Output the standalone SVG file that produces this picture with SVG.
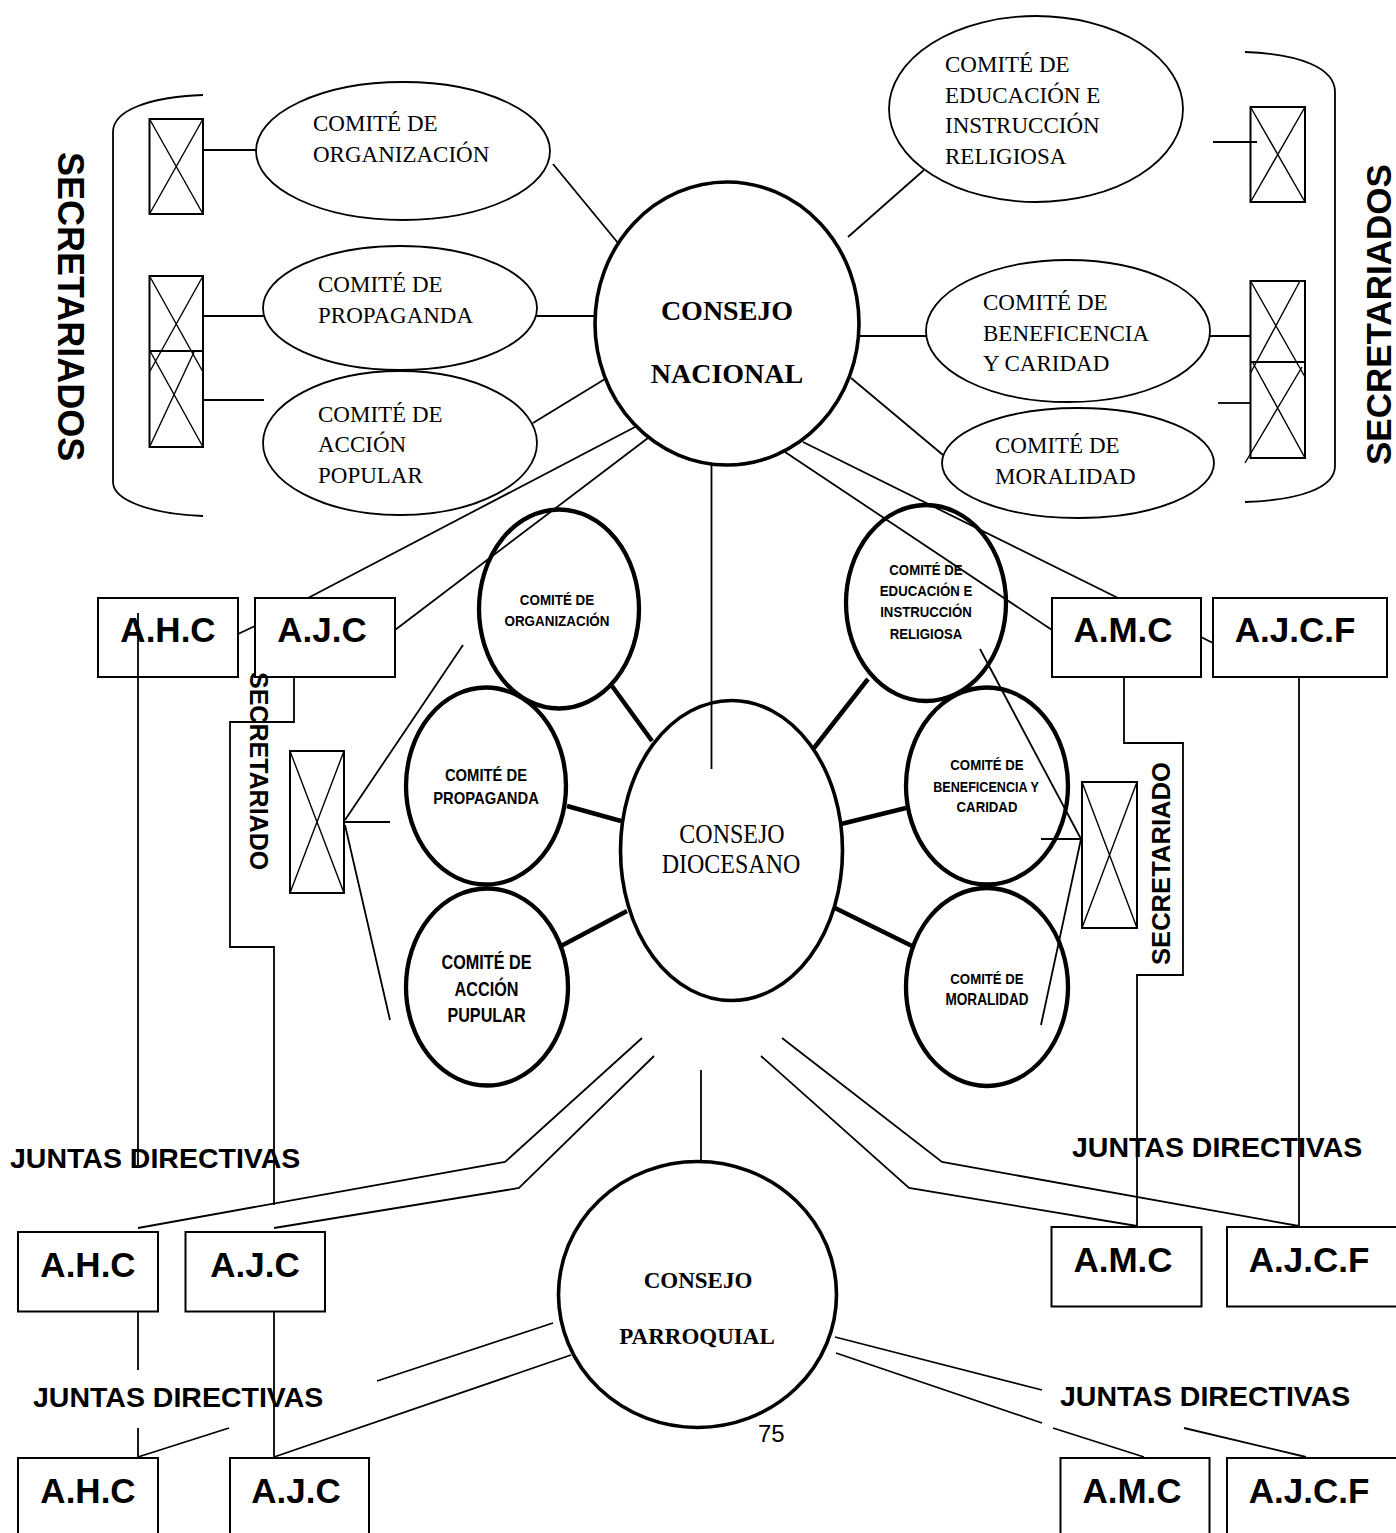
<svg xmlns="http://www.w3.org/2000/svg" width="1396" height="1533" viewBox="0 0 1396 1533">
<style>
.ln{fill:none;stroke:#000;stroke-width:1.8}
.lnb{fill:none;stroke:#000;stroke-width:4.5}
.el{fill:none;stroke:#000;stroke-width:1.8}
.elb{fill:none;stroke:#000;stroke-width:3.6}
.elc{fill:none;stroke:#000;stroke-width:4.3}
.bx{fill:none;stroke:#000;stroke-width:2}
.sb{fill:none;stroke:#000;stroke-width:2}
.sx{fill:none;stroke:#000;stroke-width:1.4}
.tr{font-family:"Liberation Serif","Times New Roman",serif;font-size:23px}
.trb{font-family:"Liberation Serif","Times New Roman",serif;font-weight:bold;text-anchor:middle}
.sa{font-family:"Liberation Sans",Arial,sans-serif;font-weight:bold}
.box{font-family:"Liberation Sans",Arial,sans-serif;font-weight:bold;font-size:35px;text-anchor:middle}
.jd{font-family:"Liberation Sans",Arial,sans-serif;font-weight:bold;font-size:28.5px}
.cm{font-family:"Liberation Sans",Arial,sans-serif;font-weight:bold;text-anchor:middle}
</style>

<g id="labels">
<text class="sa" font-size="36" transform="translate(58,152) rotate(90)">SECRETARIADOS</text>
<text class="sa" font-size="35" transform="translate(1391,465) rotate(-90)">SECRETARIADOS</text>
<text class="sa" font-size="25" transform="translate(249.5,672) rotate(90)">SECRETARIADO</text>
<text class="sa" font-size="25.6" transform="translate(1170,965) rotate(-90)">SECRETARIADO</text>
<text class="jd" x="10" y="1168">JUNTAS DIRECTIVAS</text>
<text class="jd" x="1072" y="1157">JUNTAS DIRECTIVAS</text>
<text class="jd" x="33" y="1407">JUNTAS DIRECTIVAS</text>
<text class="jd" x="1060" y="1406">JUNTAS DIRECTIVAS</text>
<text x="758" y="1442" font-family="Liberation Sans,Arial,sans-serif" font-size="24">75</text>
<path class="ln" d="M203,95 C150,97 113,110 113,132 L113,482 C113,500 150,514 203,516"/>
<path class="ln" d="M1245,52 C1300,54 1335,68 1335,92 L1335,466 C1335,488 1300,500 1245,502"/>
</g>

<g id="sec-left-1">
<rect class="sb" x="149.5" y="119" width="53.5" height="95"/>
<path class="sx" d="M149.5,119 L203,214 M203,119 L149.5,214"/>
</g>
<g id="sec-left-2">
<rect class="sb" x="149.5" y="276" width="53.5" height="171"/>
<line class="sb" x1="149.5" y1="351" x2="203" y2="351"/>
<path class="sx" d="M149.5,276 L203,372 M203,276 L149.5,372 M150,351 L203,447 M194,352 L149.5,447"/>
</g>
<g id="sec-right-1">
<rect class="sb" x="1250.5" y="107" width="54.5" height="95"/>
<path class="sx" d="M1250.5,107 L1305,202 M1305,107 L1250.5,202"/>
</g>
<g id="sec-right-2">
<rect class="sb" x="1250.5" y="281" width="54.5" height="177"/>
<line class="sb" x1="1250.5" y1="362" x2="1305" y2="362"/>
<path class="sx" d="M1250.5,281 L1305,377 M1300,281 L1250.5,373 M1253,363 L1305,458 M1302,367 L1245,463"/>
</g>
<g id="sec-mid-left">
<rect class="sb" x="290" y="751" width="54" height="142"/>
<path class="sx" d="M290,751 L344,893 M344,751 L290,893"/>
</g>
<g id="sec-mid-right">
<rect class="sb" x="1082" y="782" width="55" height="146"/>
<path class="sx" d="M1082,782 L1137,928 M1137,782 L1082,928"/>
</g>

<g id="n-org">
<ellipse class="el" cx="403" cy="151" rx="147" ry="69"/>
<text class="tr" x="313" y="131">COMITÉ DE</text>
<text class="tr" x="313" y="162">ORGANIZACIÓN</text>
</g>
<g id="n-prop">
<ellipse class="el" cx="400" cy="308" rx="137" ry="62"/>
<text class="tr" x="318" y="292">COMITÉ DE</text>
<text class="tr" x="318" y="323">PROPAGANDA</text>
</g>
<g id="n-acc">
<ellipse class="el" cx="400" cy="443" rx="137" ry="72"/>
<text class="tr" x="318" y="422">COMITÉ DE</text>
<text class="tr" x="318" y="452">ACCIÓN</text>
<text class="tr" x="318" y="483">POPULAR</text>
</g>
<g id="n-edu">
<ellipse class="el" cx="1036" cy="109" rx="147" ry="93"/>
<text class="tr" x="945" y="72">COMITÉ DE</text>
<text class="tr" x="945" y="103">EDUCACIÓN E</text>
<text class="tr" x="945" y="133">INSTRUCCIÓN</text>
<text class="tr" x="945" y="164">RELIGIOSA</text>
</g>
<g id="n-ben">
<ellipse class="el" cx="1068" cy="331" rx="142" ry="71"/>
<text class="tr" x="983" y="310">COMITÉ DE</text>
<text class="tr" x="983" y="341">BENEFICENCIA</text>
<text class="tr" x="983" y="371">Y CARIDAD</text>
</g>
<g id="n-mor">
<ellipse class="el" cx="1078" cy="463" rx="136" ry="55"/>
<text class="tr" x="995" y="453">COMITÉ DE</text>
<text class="tr" x="995" y="484">MORALIDAD</text>
</g>

<g id="consejo-nacional">
<ellipse class="elb" cx="727" cy="323.5" rx="132" ry="141.5"/>
<text class="trb" font-size="28" x="727" y="320">CONSEJO</text>
<text class="trb" font-size="28" x="727" y="383">NACIONAL</text>
</g>

<g id="consejo-diocesano">
<ellipse class="elb" cx="731.5" cy="850.5" rx="111" ry="150"/>
<text font-family="Liberation Serif,Times New Roman,serif" font-size="24" text-anchor="middle" transform="translate(732,843) scale(1,1.15)">CONSEJO</text>
<text font-family="Liberation Serif,Times New Roman,serif" font-size="24" text-anchor="middle" transform="translate(731,873) scale(1,1.15)">DIOCESANO</text>
</g>

<g id="d-org">
<ellipse class="elc" cx="559" cy="609" rx="80" ry="99.5"/>
<text class="cm" font-size="13.4" transform="translate(557,605) scale(1,1.15)">COMITÉ DE</text>
<text class="cm" font-size="13.4" transform="translate(557,625.5) scale(1,1.15)">ORGANIZACIÓN</text>
</g>
<g id="d-prop">
<ellipse class="elc" cx="486" cy="786" rx="80" ry="98.5"/>
<text class="cm" font-size="14.8" transform="translate(486,781) scale(1,1.15)">COMITÉ DE</text>
<text class="cm" font-size="14.8" transform="translate(486,804) scale(1,1.15)">PROPAGANDA</text>
</g>
<g id="d-acc">
<ellipse class="elc" cx="487" cy="987" rx="81" ry="98.5"/>
<text class="cm" font-size="16.2" transform="translate(486.5,969) scale(1,1.2)">COMITÉ DE</text>
<text class="cm" font-size="16.2" transform="translate(486.5,995.5) scale(1,1.2)">ACCIÓN</text>
<text class="cm" font-size="16.2" transform="translate(486.5,1022) scale(1,1.2)">PUPULAR</text>
</g>
<g id="d-edu">
<ellipse class="elc" cx="926" cy="603" rx="80" ry="98"/>
<text class="cm" font-size="13.2" transform="translate(926,575) scale(1,1.15)">COMITÉ DE</text>
<text class="cm" font-size="13.2" transform="translate(926,596) scale(1,1.15)">EDUCACIÓN E</text>
<text class="cm" font-size="13.2" transform="translate(926,617) scale(1,1.15)">INSTRUCCIÓN</text>
<text class="cm" font-size="13.2" transform="translate(926,639) scale(1,1.15)">RELIGIOSA</text>
</g>
<g id="d-ben">
<ellipse class="elc" cx="987" cy="786" rx="81" ry="98.5"/>
<text class="cm" font-size="13.2" transform="translate(987,770) scale(1,1.15)">COMITÉ DE</text>
<text class="cm" font-size="12.6" transform="translate(986,791.5) scale(1,1.15)">BENEFICENCIA Y</text>
<text class="cm" font-size="13.2" transform="translate(987,812) scale(1,1.15)">CARIDAD</text>
</g>
<g id="d-mor">
<ellipse class="elc" cx="987" cy="987" rx="81" ry="99"/>
<text class="cm" font-size="13.2" transform="translate(987,984) scale(1,1.15)">COMITÉ DE</text>
<text class="cm" font-size="13.6" transform="translate(987,1004.5) scale(1,1.15)">MORALIDAD</text>
</g>

<g id="consejo-parroquial">
<ellipse class="elb" cx="697.5" cy="1294.5" rx="139" ry="133"/>
<text class="trb" font-size="23" x="698" y="1288">CONSEJO</text>
<text class="trb" font-size="23" x="697" y="1344">PARROQUIAL</text>
</g>

<g id="ahc-1"><rect class="bx" x="98" y="598" width="140" height="79"/><text class="box" x="168" y="642">A.H.C</text></g>
<g id="ajc-1"><rect class="bx" x="255" y="598" width="140" height="79"/><text class="box" x="322" y="642">A.J.C</text></g>
<g id="amc-1"><rect class="bx" x="1052" y="598" width="149" height="79"/><text class="box" x="1123" y="642">A.M.C</text></g>
<g id="ajcf-1"><rect class="bx" x="1213" y="598" width="174" height="79"/><text class="box" x="1295" y="642">A.J.C.F</text></g>

<g id="ahc-2"><rect class="bx" x="18" y="1232" width="140" height="79.5"/><text class="box" x="88" y="1277">A.H.C</text></g>
<g id="ajc-2"><rect class="bx" x="185.5" y="1232" width="139.5" height="79.5"/><text class="box" x="255" y="1277">A.J.C</text></g>
<g id="amc-2"><rect class="bx" x="1051.5" y="1227" width="150" height="79.5"/><text class="box" x="1123" y="1272">A.M.C</text></g>
<g id="ajcf-2"><rect class="bx" x="1227" y="1227" width="172" height="79.5"/><text class="box" x="1309" y="1272">A.J.C.F</text></g>

<g id="ahc-3"><rect class="bx" x="18" y="1458" width="140" height="85"/><text class="box" x="88" y="1503">A.H.C</text></g>
<g id="ajc-3"><rect class="bx" x="230" y="1458" width="139" height="85"/><text class="box" x="296" y="1503">A.J.C</text></g>
<g id="amc-3"><rect class="bx" x="1060.5" y="1458" width="149" height="85"/><text class="box" x="1132" y="1503">A.M.C</text></g>
<g id="ajcf-3"><rect class="bx" x="1227" y="1458" width="172" height="85"/><text class="box" x="1309" y="1503">A.J.C.F</text></g>

<g id="connectors">
<line class="ln" x1="203" y1="150" x2="256" y2="150"/>
<line class="ln" x1="203" y1="316" x2="264" y2="316"/>
<line class="ln" x1="203" y1="400" x2="264" y2="400"/>
<line class="ln" x1="536" y1="316" x2="596" y2="316"/>
<line class="ln" x1="553" y1="164" x2="618" y2="243"/>
<line class="ln" x1="533" y1="423" x2="605" y2="379"/>
<line class="ln" x1="848" y1="237" x2="924" y2="170"/>
<line class="ln" x1="859" y1="336" x2="926" y2="336"/>
<line class="ln" x1="851" y1="378" x2="943" y2="455"/>
<line class="ln" x1="1210" y1="336" x2="1250" y2="336"/>
<line class="ln" x1="1218" y1="403" x2="1250" y2="403"/>
<line class="ln" x1="1213" y1="142" x2="1257" y2="142"/>
<line class="ln" x1="635" y1="427" x2="308" y2="598"/>
<line class="ln" x1="648" y1="438" x2="395" y2="630"/>
<line class="ln" x1="238" y1="634" x2="255" y2="626"/>
<line class="ln" x1="785" y1="452" x2="1052" y2="630"/>
<line class="ln" x1="803" y1="442" x2="1118" y2="598"/>
<line class="ln" x1="1201" y1="637" x2="1213" y2="643"/>
<line class="ln" x1="711.5" y1="465" x2="711.5" y2="769"/>
<line class="ln" x1="138" y1="613" x2="138" y2="1168"/>
<polyline class="ln" points="294,677 294,722 230,722 230,947 274,947 274,1205"/>
<polyline class="ln" points="1124,677 1124,743 1183,743 1183,975 1137,975 1137,1227"/>
<line class="ln" x1="1299" y1="677" x2="1299" y2="1227"/>
<line class="ln" x1="345" y1="820" x2="463" y2="645"/>
<line class="ln" x1="345" y1="822" x2="390" y2="822"/>
<line class="ln" x1="345" y1="825" x2="390" y2="1020"/>
<line class="ln" x1="980" y1="649" x2="1081" y2="839"/>
<line class="ln" x1="1041" y1="839" x2="1081" y2="839"/>
<line class="ln" x1="1081" y1="839" x2="1041" y2="1025"/>
<line class="lnb" x1="612" y1="686" x2="652" y2="741"/>
<line class="lnb" x1="567" y1="806" x2="621" y2="821"/>
<line class="lnb" x1="561" y1="946" x2="627" y2="911"/>
<line class="lnb" x1="868" y1="679" x2="814" y2="748"/>
<line class="lnb" x1="906" y1="808" x2="841" y2="824"/>
<line class="lnb" x1="912" y1="946" x2="835" y2="908"/>
<polyline class="ln" points="642,1038 505,1162 138,1228"/>
<polyline class="ln" points="654,1056 519,1188 274,1228"/>
<polyline class="ln" points="782,1038 942,1162 1299,1226"/>
<polyline class="ln" points="761,1056 909,1188 1137,1226"/>
<line class="ln" x1="701" y1="1070" x2="701" y2="1162" stroke-width="3"/>
<line class="ln" x1="138" y1="1312" x2="138" y2="1370"/>
<line class="ln" x1="138" y1="1428" x2="138" y2="1457"/>
<line class="ln" x1="138" y1="1457" x2="229" y2="1428"/>
<line class="ln" x1="274" y1="1312" x2="274" y2="1457"/>
<line class="ln" x1="274" y1="1457" x2="571" y2="1355"/>
<line class="ln" x1="377" y1="1381" x2="553" y2="1323"/>
<line class="ln" x1="835" y1="1337" x2="1042" y2="1390"/>
<line class="ln" x1="836" y1="1353" x2="1042" y2="1423"/>
<line class="ln" x1="1053" y1="1428" x2="1144" y2="1457"/>
<line class="ln" x1="1184" y1="1428" x2="1306" y2="1457"/>
</g>
</svg>
